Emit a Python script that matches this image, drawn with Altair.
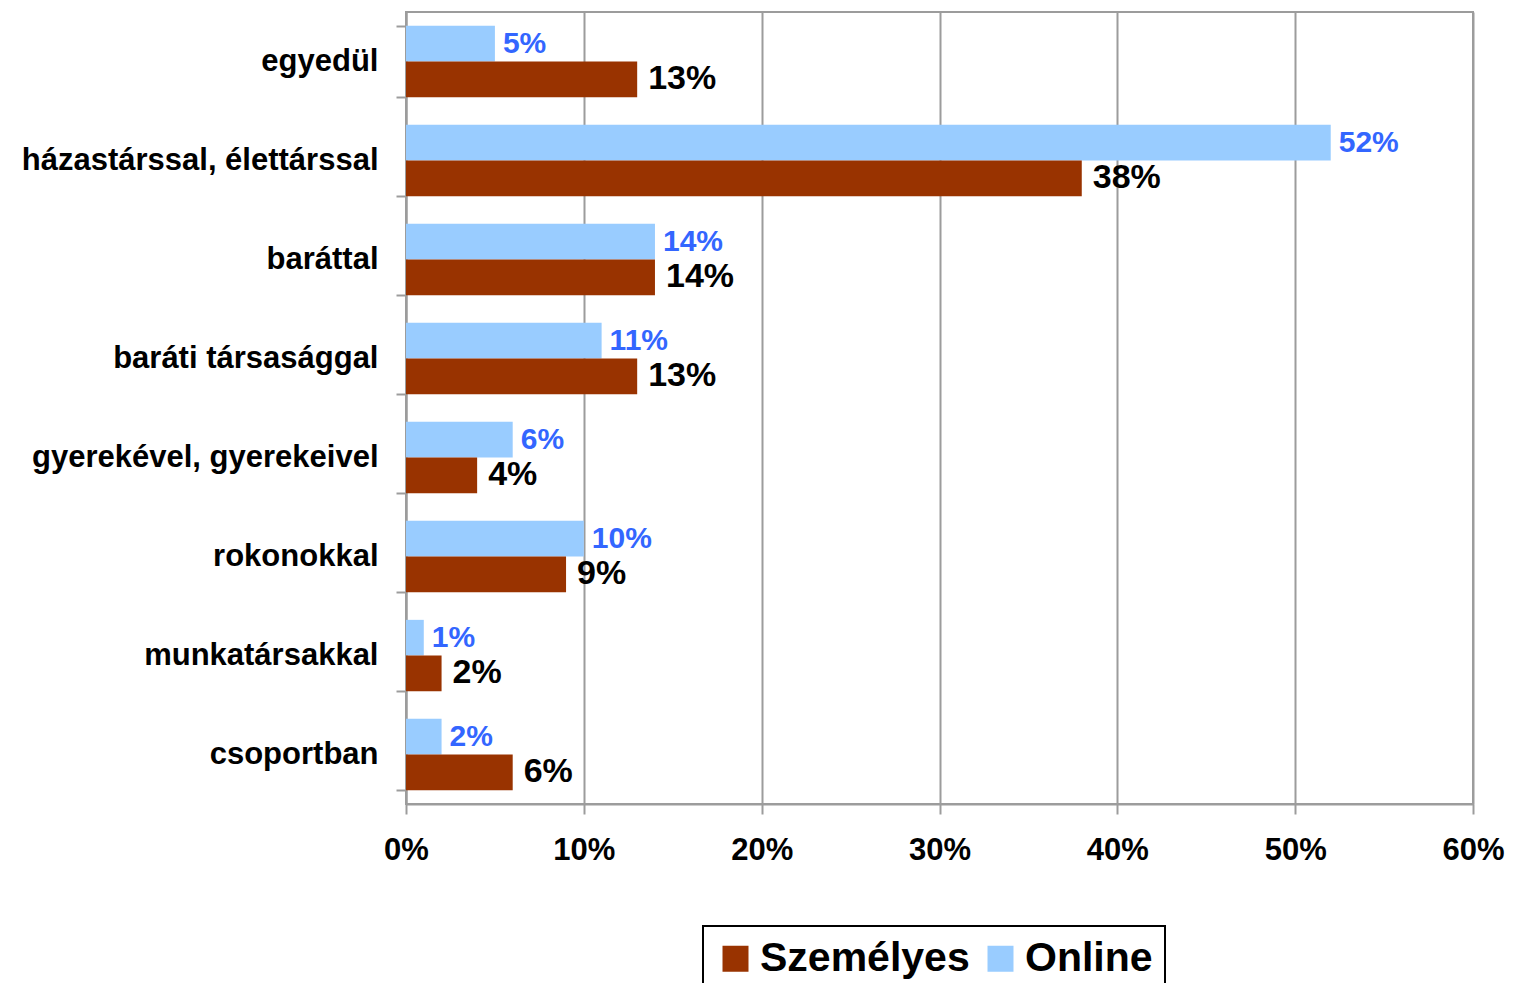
import altair as alt
import pandas as pd

categories = [
    "egyedül",
    "házastárssal, élettárssal",
    "baráttal",
    "baráti társasággal",
    "gyerekével, gyerekeivel",
    "rokonokkal",
    "munkatársakkal",
    "csoportban",
]
online = [5, 52, 14, 11, 6, 10, 1, 2]
szemelyes = [13, 38, 14, 13, 4, 9, 2, 6]
series_names = ["Személyes", "Online"]
x_ticks = [0, 0.1, 0.2, 0.3, 0.4, 0.5, 0.6]

rows = []
for c, o, s in zip(categories, online, szemelyes):
    rows.append({"cat": c, "series": "Online", "value": o / 100})
    rows.append({"cat": c, "series": "Személyes", "value": s / 100})
df = pd.DataFrame(rows)

FONT = "Liberation Sans"
GRAY = "#9c9c9c"

base = alt.Chart(df).encode(
    y=alt.Y(
        "cat:N",
        sort=categories,
        scale=alt.Scale(paddingInner=0.28, paddingOuter=0.14),
        axis=alt.Axis(
            title=None,
            labelFont=FONT,
            labelFontSize=31,
            labelFontWeight="bold",
            labelColor="black",
            labelPadding=18,
            labelLimit=600,
            tickBand="extent",
            tickSize=10,
            tickColor=GRAY,
            tickWidth=2,
            domainColor=GRAY,
            domainWidth=2,
            grid=False,
        ),
    ),
    yOffset=alt.YOffset("series:N", scale=alt.Scale(domain=["Online", "Személyes"])),
    x=alt.X(
        "value:Q",
        scale=alt.Scale(domain=[0, 0.6], nice=False),
        axis=alt.Axis(
            title=None,
            format=".0%",
            values=x_ticks,
            labelFont=FONT,
            labelFontSize=31,
            labelFontWeight="bold",
            labelColor="black",
            labelPadding=21,
            labelFlush=False,
            tickSize=10,
            tickColor=GRAY,
            tickWidth=2,
            domainColor=GRAY,
            domainWidth=2,
            grid=True,
            gridColor=GRAY,
            gridWidth=2,
        ),
    ),
)

bars = base.mark_bar().encode(
    color=alt.Color(
        "series:N",
        scale=alt.Scale(domain=series_names, range=["#993300", "#99CCFF"]),
        legend=alt.Legend(
            title=None,
            orient="none",
            legendX=297,
            legendY=914,
            direction="horizontal",
            strokeColor="black",
            padding=12,
            labelFont=FONT,
            labelFontSize=41,
            labelFontWeight="bold",
            labelColor="black",
            labelOffset=4,
            labelLimit=600,
            columnPadding=10,
            symbolType="square",
            symbolSize=676,
            symbolStrokeWidth=0,
        ),
    )
)

text_online = base.transform_filter(alt.datum.series == "Online").mark_text(
    align="left", baseline="middle", dx=8, font=FONT, fontSize=30,
    fontWeight="bold", color="#3366FF"
).encode(text=alt.Text("value:Q", format=".0%"))

text_szem = base.transform_filter(alt.datum.series == "Személyes").mark_text(
    align="left", baseline="middle", dx=11, font=FONT, fontSize=34,
    fontWeight="bold", color="black"
).encode(text=alt.Text("value:Q", format=".0%"))

chart = (
    alt.layer(bars, text_online, text_szem)
    .properties(
        width=1067,
        height=792,
        autosize="none",
        padding={"left": 398, "top": 4, "right": 34, "bottom": 179},
        background="white",
    )
    .configure_view(stroke=GRAY, strokeWidth=2)
    .configure_legend(strokeWidth=2)
)

chart.save("out.html", embed_options={"renderer": "svg", "actions": False})
